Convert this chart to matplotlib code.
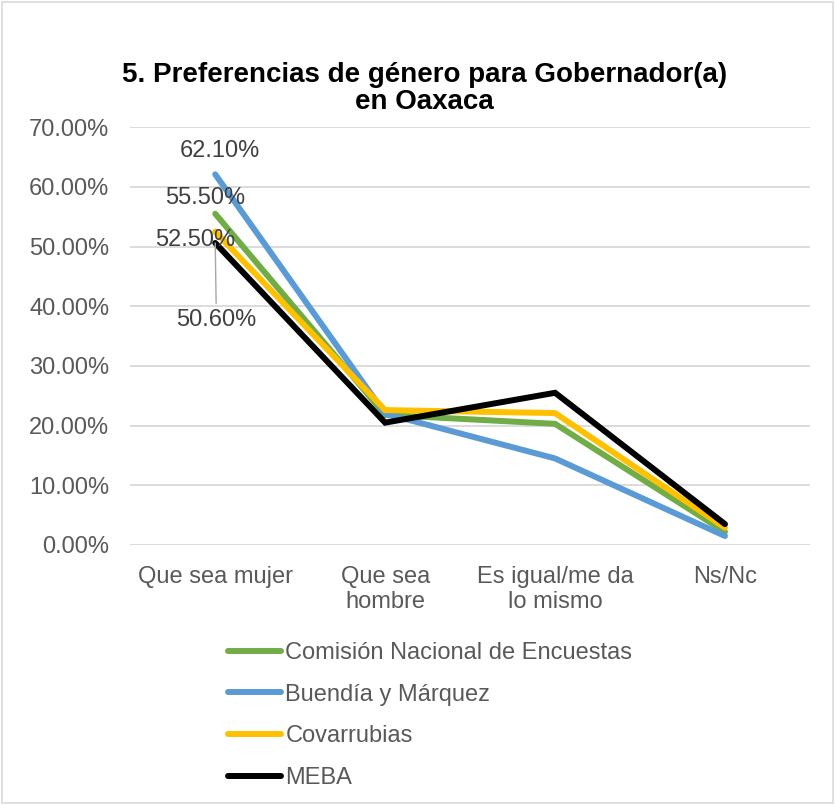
import matplotlib

matplotlib.use("Agg")
import matplotlib.pyplot as plt
from matplotlib.patches import Rectangle

categories = ["Que sea mujer", "Que sea\nhombre", "Es igual/me da\nlo mismo", "Ns/Nc"]
series_names = ["Comisión Nacional de Encuestas", "Buendía y Márquez", "Covarrubias", "MEBA"]
comision = [55.5, 21.8, 20.3, 2.2]
buendia = [62.1, 22.0, 14.5, 1.5]
covarrubias = [52.5, 22.6, 22.1, 2.9]
meba = [50.6, 20.5, 25.5, 3.5]
yticks = [0, 10, 20, 30, 40, 50, 60, 70]

COLORS = ["#70ad47", "#5b9bd5", "#ffc000", "#000000"]
TXT = "#595959"
FS = 17

plt.rcParams["font.family"] = ["Liberation Sans", "DejaVu Sans"]

fig = plt.figure(figsize=(8.35, 8.05), dpi=100)
fig.patches.append(Rectangle((0.002, 0.002), 0.996, 0.996, transform=fig.transFigure,
                             fill=False, edgecolor="#d9d9d9", linewidth=1.2))
ax = fig.add_axes([0.156, 0.323, 0.814, 0.519])

x = range(len(categories))
for name, vals, col in zip(series_names, [comision, buendia, covarrubias, meba], COLORS):
    ax.plot(x, [v / 100 for v in vals], color=col, lw=4.3, label=name,
            solid_capstyle="round", solid_joinstyle="miter", zorder=3)

ax.set_xlim(-0.5, 3.5)
ax.set_ylim(0, 0.7)
ax.set_yticks([t / 100 for t in yticks])
ax.set_yticklabels([f"{t:.2f}%" for t in yticks], fontsize=FS, color=TXT)
ax.set_xticks(list(x))
ax.set_xticklabels(categories, fontsize=FS, color=TXT, linespacing=1.2)
ax.tick_params(axis="y", length=0, pad=15)
ax.tick_params(axis="x", length=0, pad=15)
ax.grid(axis="y", color="#d9d9d9", lw=1.3)
ax.set_axisbelow(True)
for s in ax.spines.values():
    s.set_visible(False)

# data labels for first category (offsets in pixels)
lab = dict(fontsize=FS, color="#404040", ha="center", va="center", textcoords="offset pixels")
ax.annotate(f"{buendia[0]:.2f}%", (0, buendia[0] / 100), xytext=(5, 23), **lab)
ax.annotate(f"{comision[0]:.2f}%", (0, comision[0] / 100), xytext=(-10, 16), **lab)
ax.annotate(f"{covarrubias[0]:.2f}%", (0, covarrubias[0] / 100), xytext=(-20, -8), **lab)
ax.annotate(f"{meba[0]:.2f}%", (0, meba[0] / 100), xytext=(1, -77),
            arrowprops=dict(arrowstyle="-", color="#a6a6a6", lw=1, relpos=(0.5, 1.0),
                            shrinkA=2, shrinkB=0), **lab)

fig.text(0.508, 0.890, "5. Preferencias de género para Gobernador(a)\nen Oaxaca",
         ha="center", va="center", fontsize=20, fontweight="bold", color="#000000", linespacing=1.08)

handles, labels = ax.get_legend_handles_labels()
fig.legend(handles, labels, loc="upper left", bbox_to_anchor=(0.2725, 0.2025), frameon=False,
           fontsize=FS, labelcolor=TXT, handlelength=2.25, handletextpad=0.2, labelspacing=0.83,
           borderaxespad=0, borderpad=0)

fig.savefig("out.png", dpi=100)
